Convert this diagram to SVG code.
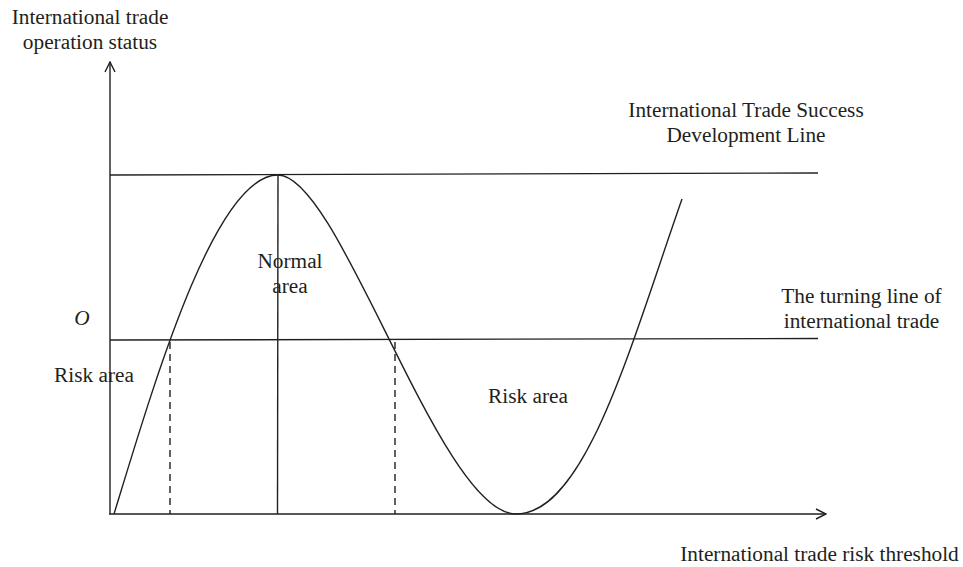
<svg xmlns="http://www.w3.org/2000/svg" width="963" height="567" viewBox="0 0 963 567">
<style>
.t{font-family:"Liberation Serif","Times New Roman",serif;font-size:21.3px;fill:#231f20}
.ln{stroke:#231f20;stroke-width:1.4;fill:none}
.ds{stroke:#231f20;stroke-width:1.4;fill:none;stroke-dasharray:7,5}
</style>
<defs>
<marker id="arr" viewBox="0 0 12 12" refX="11" refY="6" markerWidth="12" markerHeight="12" markerUnits="userSpaceOnUse" orient="auto">
<path d="M1,1 L11,6 L1,11" fill="none" stroke="#231f20" stroke-width="1.4"/>
</marker>
</defs>
<rect width="963" height="567" fill="#fff"/>
<g id="axes">
<line class="ln" x1="110" y1="514" x2="110" y2="62" marker-end="url(#arr)"/>
<line class="ln" x1="109" y1="514" x2="826" y2="514" marker-end="url(#arr)"/>
</g>
<g id="lines">
<line class="ln" x1="110" y1="175" x2="818" y2="173"/>
<line class="ln" x1="110" y1="340" x2="818" y2="338.5"/>
<line class="ln" x1="278" y1="175" x2="277.5" y2="514"/>
<line class="ds" x1="170" y1="342" x2="170" y2="514"/>
<line class="ds" x1="395" y1="342" x2="395" y2="514"/>
</g>
<g id="curve">
<path class="ln" d="M114,514 C155,380 215,175 278,175 C340,175 440,514 516,514 C585,514 629.5,349 682,199"/>
</g>
<g id="labels">
<text class="t" x="90" y="24" text-anchor="middle">International trade</text>
<text class="t" x="90" y="49" text-anchor="middle">operation status</text>
<text class="t" x="746" y="117" text-anchor="middle">International Trade Success</text>
<text class="t" x="746" y="142" text-anchor="middle">Development Line</text>
<text class="t" x="861.5" y="303" text-anchor="middle">The turning line of</text>
<text class="t" x="861.5" y="328" text-anchor="middle">international trade</text>
<text class="t" x="82" y="325" text-anchor="middle" font-style="italic">O</text>
<text class="t" x="94" y="382" text-anchor="middle">Risk area</text>
<text class="t" x="290" y="268" text-anchor="middle">Normal</text>
<text class="t" x="290" y="293" text-anchor="middle">area</text>
<text class="t" x="528" y="403" text-anchor="middle">Risk area</text>
<text class="t" x="819.5" y="561" text-anchor="middle">International trade risk threshold</text>
</g>
</svg>
